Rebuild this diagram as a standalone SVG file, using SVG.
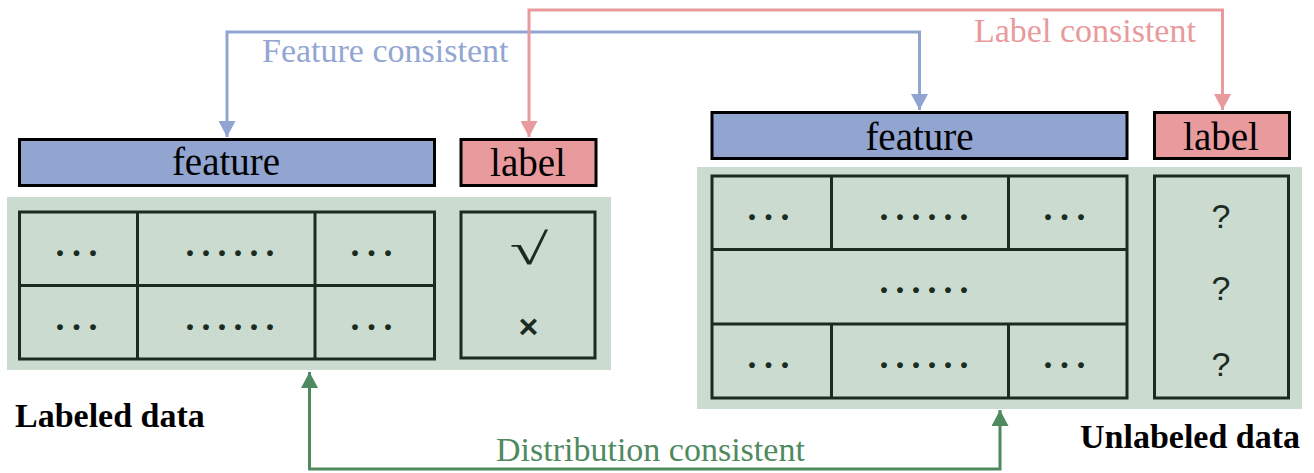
<svg xmlns="http://www.w3.org/2000/svg" width="1314" height="473" viewBox="0 0 1314 473">
<style>
.bg{fill:#cbdbd0}
.cell{fill:#cbdbd0;stroke:#1c2b21;stroke-width:3}
.feat{fill:#91a5d0;stroke:#000;stroke-width:3}
.lab{fill:#e89a9d;stroke:#000;stroke-width:3}
.hd{font-family:"Liberation Serif",serif;font-size:39px;fill:#000;text-anchor:middle}
.dots{font-family:"Liberation Serif",serif;font-size:36px;font-weight:bold;fill:#1c2b21;text-anchor:middle}
.q{font-family:"Liberation Sans",sans-serif;font-size:34px;fill:#1c2b21;text-anchor:middle}
.cap{font-family:"Liberation Serif",serif;font-size:34px;font-weight:bold;fill:#000}
.conn{font-family:"Liberation Serif",serif;font-size:34px}
.ln{fill:none;stroke-width:3}
</style>
<defs>
<marker id="ab" markerUnits="userSpaceOnUse" markerWidth="18" markerHeight="17" refX="16" refY="8.5" orient="auto-start-reverse"><path d="M0,0 L16,8.5 L0,17 Z" fill="#91a5d3"/></marker>
<marker id="ar" markerUnits="userSpaceOnUse" markerWidth="18" markerHeight="17" refX="16" refY="8.5" orient="auto-start-reverse"><path d="M0,0 L16,8.5 L0,17 Z" fill="#e89a9d"/></marker>
<marker id="ag" markerUnits="userSpaceOnUse" markerWidth="18" markerHeight="17" refX="16" refY="8.5" orient="auto-start-reverse"><path d="M0,0 L16,8.5 L0,17 Z" fill="#4f8a5f"/></marker>
</defs>

<g id="labeled">
<rect class="bg" x="7" y="197" width="604" height="173"/>
<rect class="feat" x="19.5" y="139.5" width="415" height="46"/>
<text class="hd" x="226" y="174.5">feature</text>
<rect class="lab" x="461" y="139.5" width="135" height="46"/>
<text class="hd" x="528" y="175.5">label</text>
<rect class="cell" x="19.5" y="212" width="415" height="147"/>
<line class="cell" x1="19.5" y1="285.5" x2="434.5" y2="285.5"/>
<line class="cell" x1="137.5" y1="212" x2="137.5" y2="359"/>
<line class="cell" x1="315" y1="212" x2="315" y2="359"/>
<text class="dots" x="60 76.5 93" y="256">...</text>
<text class="dots" x="190 206 222 238 254 270" y="256">......</text>
<text class="dots" x="355 371.5 388" y="256">...</text>
<text class="dots" x="60 76.5 93" y="330">...</text>
<text class="dots" x="190 206 222 238 254 270" y="330">......</text>
<text class="dots" x="355 371.5 388" y="330">...</text>
<rect class="cell" x="461" y="212" width="134" height="146"/>
<text transform="translate(529,264) scale(1.75,1.1)" x="0" y="0" font-family="Liberation Serif, serif" font-size="40" fill="#1c2b21" text-anchor="middle">√</text>
<text x="528.5" y="338" font-family="Liberation Sans, sans-serif" font-size="34" font-weight="bold" fill="#1c2b21" text-anchor="middle">×</text>
<text class="cap" x="15" y="426.5">Labeled data</text>
</g>

<g id="unlabeled">
<rect class="bg" x="697" y="167" width="605" height="242"/>
<rect class="feat" x="712" y="112.5" width="415" height="46"/>
<text class="hd" x="919.5" y="150">feature</text>
<rect class="lab" x="1154.5" y="112.5" width="135" height="46"/>
<text class="hd" x="1221" y="149.5">label</text>
<rect class="cell" x="712" y="176" width="415" height="222"/>
<line class="cell" x1="712" y1="249.5" x2="1127" y2="249.5"/>
<line class="cell" x1="712" y1="324" x2="1127" y2="324"/>
<line class="cell" x1="831.5" y1="176" x2="831.5" y2="249.5"/>
<line class="cell" x1="1008.5" y1="176" x2="1008.5" y2="249.5"/>
<line class="cell" x1="831.5" y1="324" x2="831.5" y2="398"/>
<line class="cell" x1="1008.5" y1="324" x2="1008.5" y2="398"/>
<text class="dots" x="752 768.5 785" y="220">...</text>
<text class="dots" x="884 900 916 932 948 964" y="220">......</text>
<text class="dots" x="1048 1064.5 1081" y="220">...</text>
<text class="dots" x="884 900 916 932 948 964" y="293">......</text>
<text class="dots" x="752 768.5 785" y="368">...</text>
<text class="dots" x="884 900 916 932 948 964" y="368">......</text>
<text class="dots" x="1048 1064.5 1081" y="368">...</text>
<rect class="cell" x="1154.5" y="176" width="134" height="222"/>
<text class="q" x="1221" y="227.5">?</text>
<text class="q" x="1221" y="299.5">?</text>
<text class="q" x="1221" y="376">?</text>
<text class="cap" x="1080" y="448">Unlabeled data</text>
</g>

<g id="connectors">
<path class="ln" stroke="#91a5d3" d="M227,137 V32 H919.5 V110" marker-start="url(#ab)" marker-end="url(#ab)"/>
<path class="ln" stroke="#e89a9d" d="M529,137 V10 H1222.5 V110" marker-start="url(#ar)" marker-end="url(#ar)"/>
<path class="ln" stroke="#4f8a5f" d="M309.5,372 V469 H1000 V410" marker-start="url(#ag)" marker-end="url(#ag)"/>
<text class="conn" x="262" y="62" fill="#93a6d3">Feature consistent</text>
<text class="conn" x="974" y="42" fill="#e89a9d">Label consistent</text>
<text class="conn" x="496" y="461" fill="#4f8a5f">Distribution consistent</text>
</g>
</svg>
